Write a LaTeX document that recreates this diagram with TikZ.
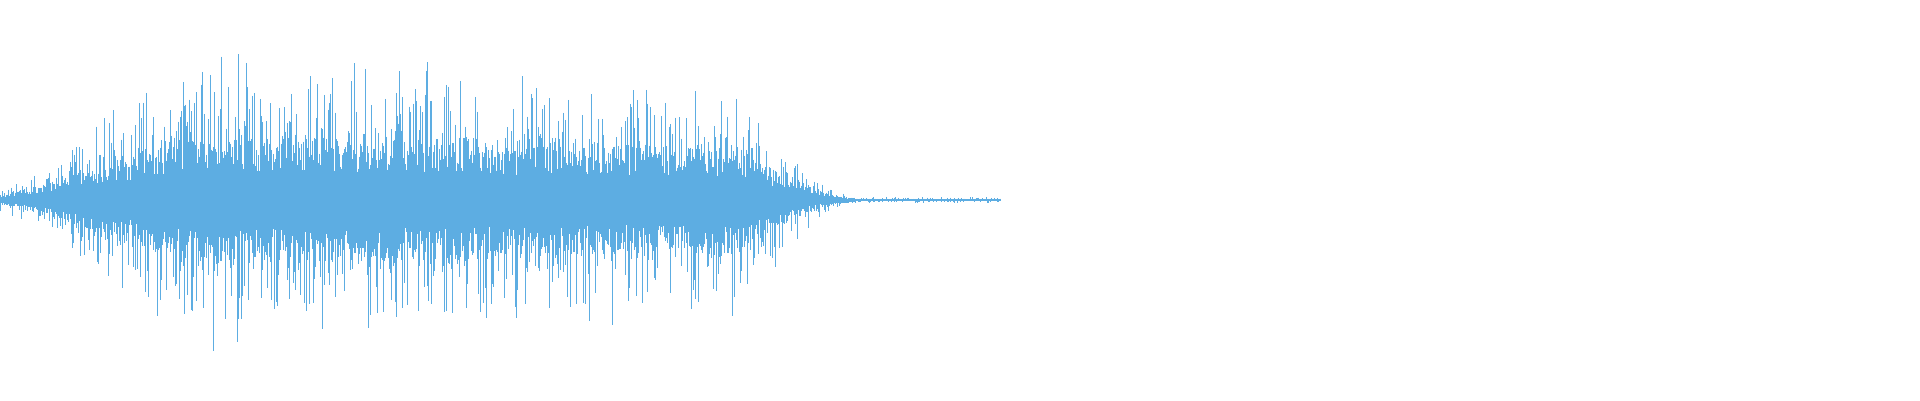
\documentclass[tikz,border=0pt]{standalone}
\usepackage{xcolor}
\definecolor{wave}{RGB}{93,173,226}
\begin{document}
\begin{tikzpicture}[
    wavebar/.style={draw=wave, line width=0.25pt}
]
    \useasboundingbox (0,0) rectangle (19.2,4);
    \pgfmathsetseed{4217}
    % centre line
    \coordinate (start) at (0,2);
    \coordinate (stop) at (10,2);
    \draw[wavebar, line width=0.7pt] (start) -- (stop);
    % samples
    \foreach \i in {0,...,1000} {
        \ifnum\i<170
            \pgfmathsetmacro{\env}{0.1+1.2*(\i/170)^1.2}
        \else\ifnum\i<730
            \pgfmathsetmacro{\env}{1.3+0.12*sin(\i*0.4)}
        \else\ifnum\i<855
            \pgfmathsetmacro{\env}{0.04+1.26*((855-\i)/125)^1.6}
        \else
            \pgfmathsetmacro{\env}{0.03}
        \fi\fi\fi
        \pgfmathsetmacro{\up}{\env*(0.2+0.25*rnd)+0.65*\env*rnd^4}
        \pgfmathsetmacro{\dn}{\env*(0.2+0.25*rnd)+0.65*\env*rnd^4}
        \pgfmathsetmacro{\xx}{\i/100}
        \draw[wavebar] (\xx,2+\up) -- (\xx,2-\dn);
    }
\end{tikzpicture}
\end{document}
